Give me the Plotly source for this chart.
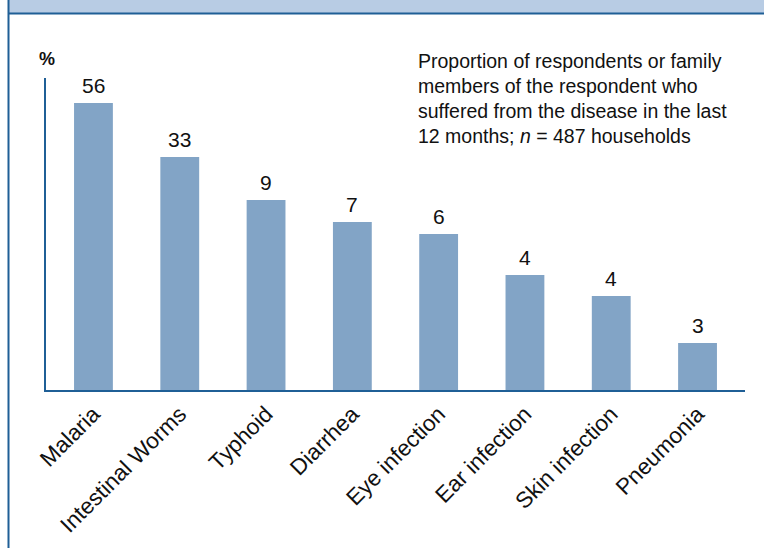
import plotly.graph_objects as go

# Data
categories = ["Malaria", "Intestinal Worms", "Typhoid", "Diarrhea",
              "Eye infection", "Ear infection", "Skin infection", "Pneumonia"]
percent_labels = [56, 33, 9, 7, 6, 4, 4, 3]
# bar heights as drawn in the reference (not proportional to the labels)
bar_heights = [287, 233, 190, 168, 156, 115, 94, 47]

W, H = 764, 548
ML, MR, MT, MB = 46, 19, 78, 158
PW, PH = W - ML - MR, H - MT - MB

def px(x):
    return (x - ML) / PW

def py(y):
    return (H - MB - y) / PH

FONT = "Liberation Sans, Arial, sans-serif"
AXIS_COL = "#1f5f96"

fig = go.Figure()
fig.add_trace(go.Bar(
    x=list(range(len(categories))), y=bar_heights,
    width=0.45, marker=dict(color="#82a4c6", line=dict(width=0)),
    hoverinfo="skip",
))

annotations = []
for i, (h, lab) in enumerate(zip(bar_heights, percent_labels)):
    annotations.append(dict(x=i, y=h, xref="x", yref="y", text=str(lab),
                            showarrow=False, yanchor="bottom", yshift=4,
                            font=dict(family=FONT, size=21, color="#111111")))

note_lines = ["Proportion of respondents or family",
              "members of the respondent who",
              "suffered from the disease in the last",
              "12 months; <i>n</i> = 487 households"]
for k, line in enumerate(note_lines):
    annotations.append(dict(x=px(416), y=py(61 + 25 * k), xref="paper", yref="paper",
                            text=line, showarrow=False, xanchor="left", yanchor="middle",
                            font=dict(family=FONT, size=19.5, color="#111111")))

annotations.append(dict(x=px(47), y=py(59), xref="paper", yref="paper", text="<b>%</b>",
                        showarrow=False, xanchor="center", yanchor="middle",
                        font=dict(family=FONT, size=18, color="#111111")))

shapes = [
    dict(type="rect", xref="paper", yref="paper", x0=px(8), x1=px(W + 5),
         y0=py(13), y1=py(-5), fillcolor="#b8cce4", line=dict(width=0), layer="below"),
    dict(type="line", xref="paper", yref="paper", x0=px(8), x1=px(W + 5),
         y0=py(13.5), y1=py(13.5), line=dict(color=AXIS_COL, width=2)),
    dict(type="line", xref="paper", yref="paper", x0=px(8.5), x1=px(8.5),
         y0=py(-5), y1=py(H + 5), line=dict(color=AXIS_COL, width=2)),
]

fig.update_layout(
    width=W, height=H,
    margin=dict(l=ML, r=MR, t=MT, b=MB, autoexpand=False),
    paper_bgcolor="white", plot_bgcolor="white",
    showlegend=False,
    annotations=annotations, shapes=shapes,
    xaxis=dict(range=[-0.55, 7.55], tickmode="array", automargin=False,
               tickvals=list(range(len(categories))), ticktext=categories,
               tickangle=-45, showline=True, linecolor=AXIS_COL, linewidth=2,
               showgrid=False, zeroline=False, ticks="",
               tickfont=dict(family=FONT, size=22.5, color="#111111")),
    yaxis=dict(range=[0, PH], showline=True, linecolor=AXIS_COL, linewidth=1.5,
               automargin=False,
               showgrid=False, zeroline=False, showticklabels=False, ticks=""),
)

fig.write_html("out.html", config={"displayModeBar": False},
               post_script="document.body.style.margin='0';document.body.style.overflow='hidden';")
